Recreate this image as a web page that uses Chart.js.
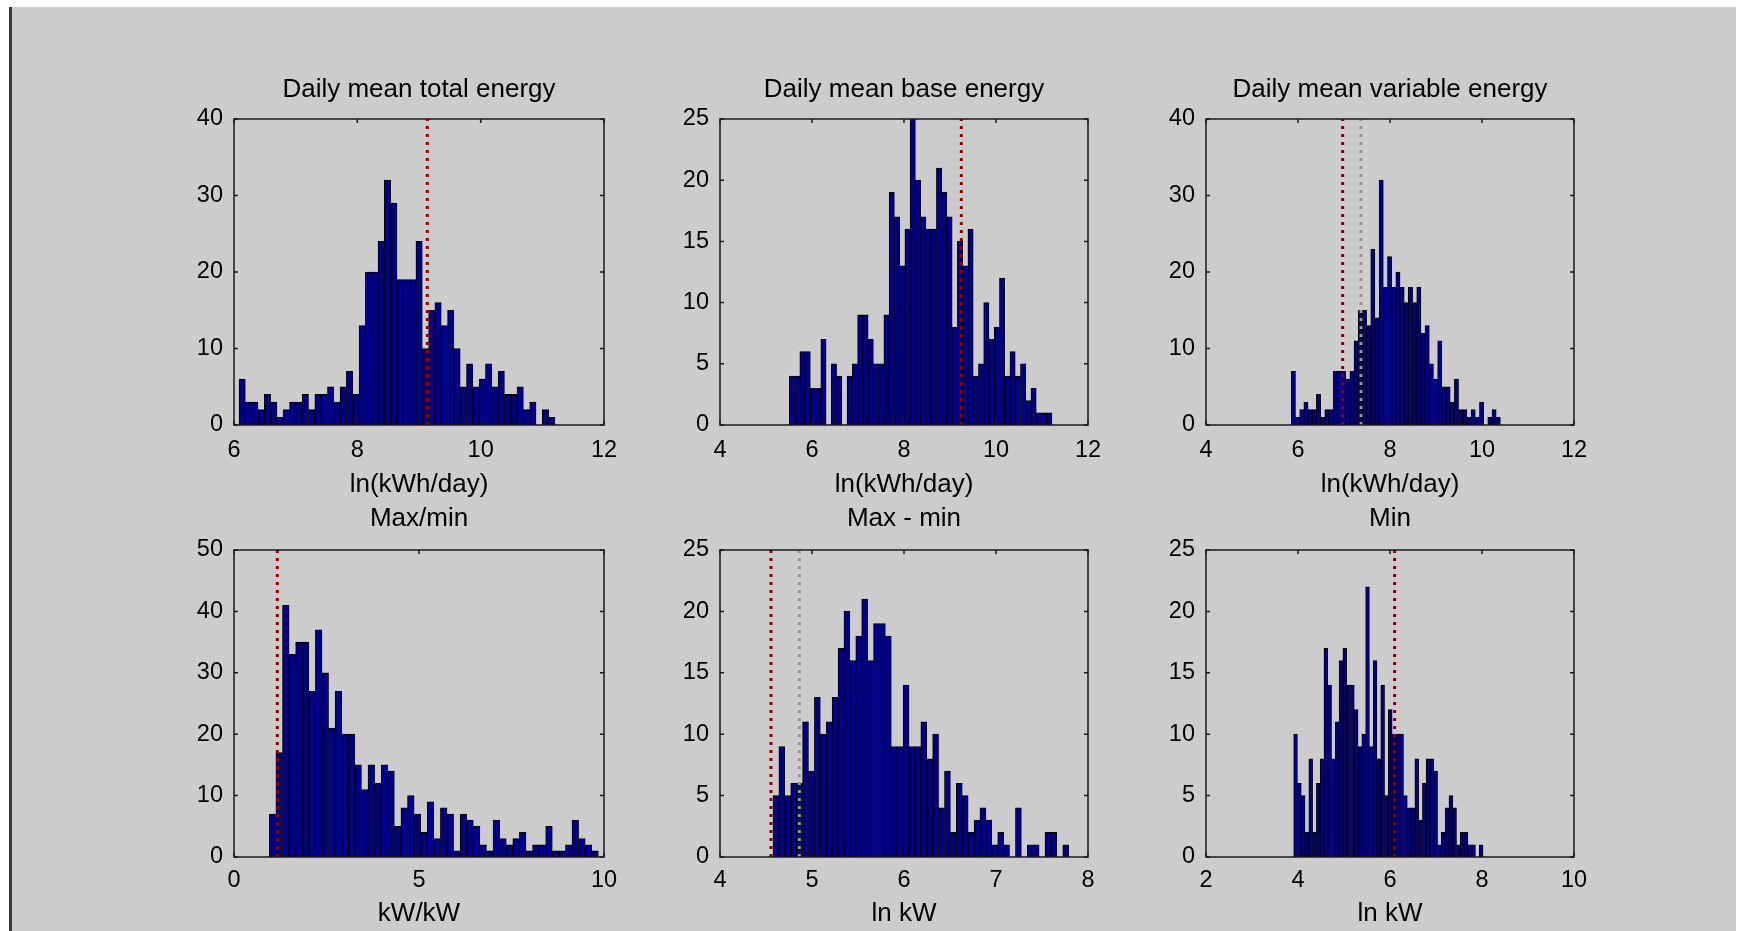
<!DOCTYPE html>
<html>
<head>
<meta charset="utf-8">
<title>Household energy histograms</title>
<script src="https://cdn.jsdelivr.net/npm/chart.js@4.4.0/dist/chart.umd.min.js"></script>
<style>
  html, body { margin: 0; padding: 0; background: #fff; }
  body { width: 1741px; height: 931px; position: relative; overflow: hidden; }
  #figure { position: absolute; left: 12px; top: 7px; right: 5px; bottom: 0; background: #cccccc; }
  #edge { position: absolute; left: 9px; top: 7px; width: 3px; bottom: 0; background: #3a3a3a; }
  canvas.panel { position: absolute; }
</style>
</head>
<body>
<div id="figure"></div>
<div id="edge"></div>

<script>
// histogram counts, 50 bins each
const totalEnergyCounts = [6, 3, 3, 2, 4, 3, 1, 2, 3, 3, 4, 2, 4, 4, 5, 3, 5, 7, 4, 13,
  20, 20, 24, 32, 29, 19, 19, 19, 24, 10, 15, 16, 13, 15, 10, 5, 8, 5, 6, 8,
  5, 7, 4, 4, 5, 2, 3, 0, 2, 1];
const baseEnergyCounts = [4, 4, 6, 6, 3, 3, 7, 0, 5, 4, 0, 4, 5, 9, 9, 7, 5, 5, 9, 19,
  17, 13, 16, 25, 20, 17, 16, 16, 21, 19, 17, 8, 15, 13, 16, 4, 5, 10, 7, 8,
  12, 4, 6, 4, 5, 2, 3, 1, 1, 1];
const variableEnergyCounts = [7, 1, 2, 3, 2, 2, 4, 1, 2, 2, 7, 7, 7, 6, 7, 11, 15, 15, 13, 23,
  14, 32, 18, 22, 18, 20, 18, 16, 18, 16, 18, 12, 13, 8, 6, 11, 5, 5, 3, 6,
  2, 2, 1, 2, 1, 3, 0, 1, 2, 1];
const maxOverMinCounts = [7, 17, 41, 33, 35, 35, 27, 37, 30, 21, 27, 20, 20, 15, 11, 15, 12, 15, 14, 5,
  8, 10, 7, 4, 9, 3, 8, 7, 1, 7, 6, 5, 2, 1, 6, 3, 2, 3, 4, 1,
  2, 2, 5, 1, 1, 2, 6, 3, 2, 1];
const maxMinusMinCounts = [5, 9, 5, 6, 6, 11, 7, 13, 10, 11, 13, 17, 20, 16, 18, 21, 16, 19, 19, 18,
  9, 9, 14, 9, 9, 11, 8, 10, 4, 7, 2, 6, 5, 2, 3, 4, 3, 1, 2, 1,
  0, 4, 0, 1, 1, 0, 2, 2, 0, 1];
const minCounts = [10, 6, 5, 2, 8, 2, 6, 8, 17, 14, 8, 11, 16, 17, 14, 14, 12, 9, 10, 22,
  9, 16, 8, 14, 5, 12, 10, 10, 10, 5, 4, 4, 8, 3, 6, 8, 8, 7, 1, 2,
  4, 5, 4, 1, 2, 2, 1, 1, 0, 1];

// data range covered by the bins of each histogram
const binRanges = [[6.081, 11.205], [5.507, 11.217], [5.855, 10.399],
  [0.955, 9.847], [4.576, 7.790], [3.906, 8.022]];

// vertical reference lines
const redMarkers = [9.135, 9.246, 6.971, 1.171, 4.554, 6.10];
const grayMarkers = [null, null, 7.37, null, 4.862, null];

const panelTitles = ['Daily mean total energy', 'Daily mean base energy', 'Daily mean variable energy',
  'Max/min', 'Max - min', 'Min'];
const xAxisLabels = ['ln(kWh/day)', 'ln(kWh/day)', 'ln(kWh/day)', 'kW/kW', 'ln kW', 'ln kW'];
const xLimits = [[6, 12], [4, 12], [4, 12], [0, 10], [4, 8], [2, 10]];
const xSteps = [2, 2, 2, 5, 1, 2];
const yMaxima = [40, 25, 40, 50, 25, 25];
const ySteps = [10, 5, 10, 10, 5, 5];

const allCounts = [totalEnergyCounts, baseEnergyCounts, variableEnergyCounts,
  maxOverMinCounts, maxMinusMinCounts, minCounts];

// plot boxes on the page, in px; each row sets its own title gap, x-axis height and tick padding
const topRow = { top: 119, height: 306, titleGap: 5.4, bottom: 78, tickPad: 11 };
const lowRow = { top: 550, height: 307, titleGap: 3.4, bottom: 75, tickPad: 9 };
const plotBoxes = [
  { left: 234, width: 370, row: topRow },
  { left: 720, width: 368, row: topRow },
  { left: 1206, width: 368, row: topRow },
  { left: 234, width: 370, row: lowRow },
  { left: 720, width: 368, row: lowRow },
  { left: 1206, width: 368, row: lowRow },
];
const SIDE = 80;     // room for y tick labels; an empty right axis mirrors it so titles centre
const TOP = 50;      // room for the title

const FONT = "'Liberation Sans', Arial, sans-serif";
const BAR_FILL = 'rgb(0, 0, 143)';
const RED_LINE = 'rgb(150, 0, 0)';
const GRAY_LINE = 'rgb(150, 150, 150)';

// box round the plot area with inward tick marks on all four sides
const axesBox = {
  id: 'axesBox',
  afterDraw(chart) {
    const { ctx, chartArea: a, scales } = chart;
    const len = 4;
    ctx.save();
    ctx.strokeStyle = '#1a1a1a';
    ctx.lineWidth = 1.5;
    ctx.beginPath();
    scales.x.ticks.forEach(t => {
      const px = scales.x.getPixelForValue(t.value);
      ctx.moveTo(px, a.bottom);
      ctx.lineTo(px, a.bottom - len);
      ctx.moveTo(px, a.top);
      ctx.lineTo(px, a.top + len);
    });
    scales.y.ticks.forEach(t => {
      const py = scales.y.getPixelForValue(t.value);
      ctx.moveTo(a.left, py);
      ctx.lineTo(a.left + len, py);
      ctx.moveTo(a.right, py);
      ctx.lineTo(a.right - len, py);
    });
    ctx.stroke();
    ctx.strokeRect(a.left, a.top, a.right - a.left, a.bottom - a.top);
    ctx.restore();
  },
};

function binCentres(range, n) {
  const width = (range[1] - range[0]) / n;
  return Array.from({ length: n }, (_, i) => range[0] + (i + 0.5) * width);
}

function markerDataset(value, yMax, color) {
  return {
    type: 'line',
    data: [{ x: value, y: 0 }, { x: value, y: yMax }],
    borderColor: color,
    borderWidth: 3,
    borderDash: [3, 5],
    pointRadius: 0,
    order: 0,
  };
}

function renderPanel(index) {
  const box = plotBoxes[index];
  const row = box.row;
  const canvas = document.createElement('canvas');
  canvas.className = 'panel';
  canvas.width = box.width + 2 * SIDE;
  canvas.height = row.height + TOP + row.bottom;
  canvas.style.left = (box.left - SIDE) + 'px';
  canvas.style.top = (row.top - TOP) + 'px';
  document.body.appendChild(canvas);

  const counts = allCounts[index];
  const centres = binCentres(binRanges[index], counts.length);
  const yMax = yMaxima[index];

  const datasets = [{
    type: 'bar',
    data: counts.map((c, i) => ({ x: centres[i], y: c })),
    backgroundColor: BAR_FILL,
    borderColor: '#000',
    borderWidth: 1,
    barPercentage: 1,
    categoryPercentage: 1,
    order: 1,
  }];
  datasets.push(markerDataset(redMarkers[index], yMax, RED_LINE));
  if (grayMarkers[index] !== null) {
    datasets.push(markerDataset(grayMarkers[index], yMax, GRAY_LINE));
  }

  new Chart(canvas.getContext('2d'), {
    type: 'bar',
    data: { datasets },
    plugins: [axesBox],
    options: {
      responsive: false,
      animation: false,
      layout: { padding: 0 },
      plugins: {
        legend: { display: false },
        tooltip: { enabled: false },
        title: {
          display: true,
          text: panelTitles[index],
          color: '#000',
          font: { family: FONT, size: 26, weight: 'normal' },
          // title box is 31.2px of text plus padding, TOP in all
          padding: { top: row.titleGap, bottom: TOP - 31.2 - row.titleGap },
        },
      },
      scales: {
        x: {
          type: 'linear',
          min: xLimits[index][0],
          max: xLimits[index][1],
          offset: false,
          grid: { display: false, drawTicks: false, offset: false },
          border: { display: false },
          ticks: {
            stepSize: xSteps[index],
            padding: row.tickPad,
            maxRotation: 0,
            color: '#000',
            font: { family: FONT, size: 23.5 },
          },
          title: {
            display: true,
            text: xAxisLabels[index],
            color: '#000',
            font: { family: FONT, size: 26 },
            padding: { top: 0, bottom: 2.4 },
          },
          afterFit: scale => { scale.height = row.bottom; },
        },
        y: {
          min: 0,
          max: yMax,
          grid: { display: false, drawTicks: false },
          border: { display: false },
          ticks: {
            stepSize: ySteps[index],
            padding: 11,
            color: '#000',
            font: { family: FONT, size: 23.5 },
          },
          afterFit: scale => { scale.width = SIDE; },
        },
        yRight: {
          position: 'right',
          min: 0,
          max: yMax,
          grid: { display: false, drawTicks: false },
          border: { display: false },
          ticks: { display: false },
          afterFit: scale => { scale.width = SIDE; },
        },
      },
    },
  });
}

plotBoxes.forEach((_, i) => renderPanel(i));
</script>
</body>
</html>
